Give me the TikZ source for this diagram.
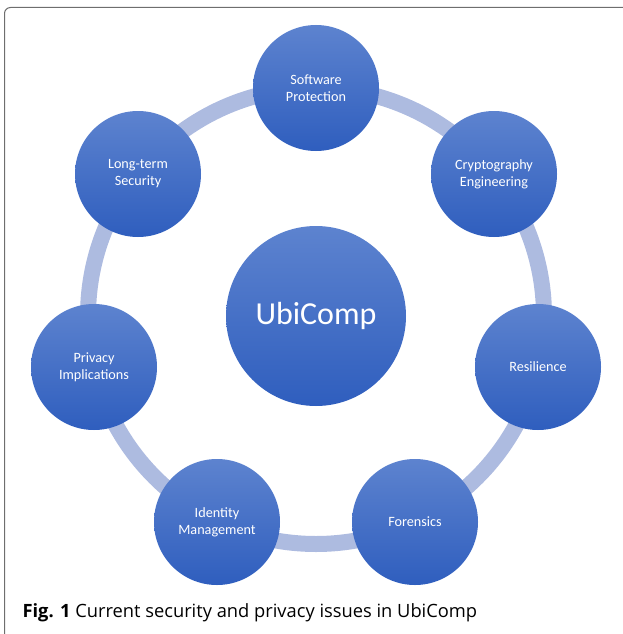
\documentclass[tikz,border=0pt]{standalone}
\usepackage{fontspec}
\setmainfont{Carlito}
\newfontfamily\capfont{Open Sans}
\usetikzlibrary{positioning}
\definecolor{ringblue}{RGB}{173,187,224}
\definecolor{topblue}{RGB}{93,131,207}
\definecolor{botblue}{RGB}{47,94,190}
\definecolor{framegray}{RGB}{110,110,110}
\tikzset{
  topic/.style={circle, minimum size=126pt, inner sep=0pt, top color=topblue, bottom color=botblue,
    text=white, align=center, font=\fontsize{14.2}{17}\selectfont},
  hub/.style={topic, minimum size=180pt, font=\fontsize{32}{36}\selectfont},
  ring/.style={line width=16pt, ringblue}
}

\begin{document}
\begin{tikzpicture}[x=1pt,y=-1pt]
        \useasboundingbox (0,0) rectangle (623,634);
        \draw[framegray, line width=1pt, rounded corners=6pt] (4.5,634) -- (4.5,7.5) -- (623,7.5);
        \node[hub] (ubicomp) at (316,316) {UbiComp};
        \draw[ring] (ubicomp.center) circle (228); % the ring
        \node[topic] (software) at (316,88) {Software\\Protection};
        \node[topic] (crypto) at (494,174) {Cryptography\\Engineering};
        \node[topic] (resilience) at (538,367) {Resilience};
        \node[topic] (forensics) at (415,522) {Forensics};
        \node[topic] (identity) at (217,522) {Identity\\Management};
        \node[topic] (privacy) at (94,367) {Privacy\\Implications};
        \node[topic] (longterm) at (138,174) {Long-term\\Security};
        \node[anchor=base west, font=\capfont\fontsize{18.3}{21}\selectfont] (caption) at (19,617)
            {\textbf{Fig. 1} Current security and privacy issues in UbiComp};
\end{tikzpicture}
\end{document}
